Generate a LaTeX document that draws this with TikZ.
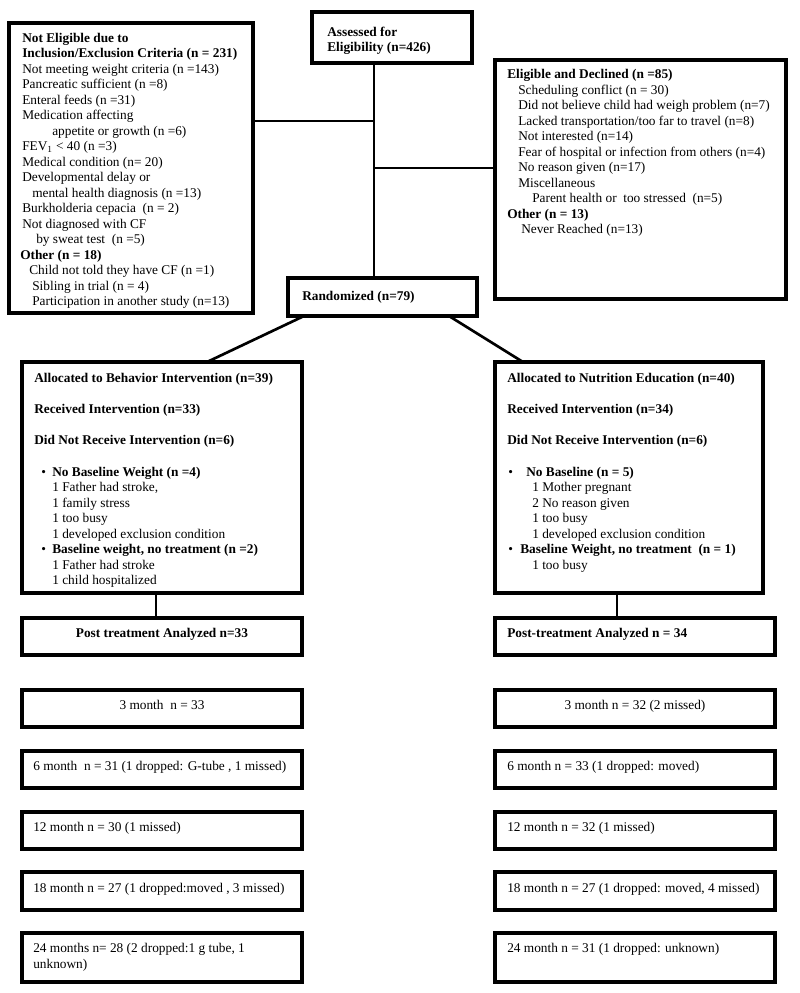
\documentclass[tikz,border=0pt]{standalone}
\usepackage{fontspec}
\setmainfont{Liberation Serif}
\usetikzlibrary{fit}
\begin{document}
\begin{tikzpicture}[x=0.75pt,y=-0.75pt,
  box/.style={draw, line width=2.3pt, inner sep=0pt},
  ln/.style={line width=2pt},
  t/.style={anchor=base west, inner sep=0pt, font=\fontsize{10}{11.6}\selectfont},
  tb/.style={t, font=\fontsize{10}{11.6}\selectfont\bfseries},
  tc/.style={anchor=base, inner sep=0pt, font=\fontsize{10}{11.6}\selectfont},
  tcb/.style={tc, font=\fontsize{10}{11.6}\selectfont\bfseries}]
\useasboundingbox (0,0) rectangle (800,993);
% ---------------- boxes ----------------
\node[box, fit={(9,23) (253,313)}] (ne) {};
\node[box, fit={(312,12) (472,63)}] (ass) {};
\node[box, fit={(495,60) (786,299)}] (ed) {};
\node[box, fit={(288,278) (477,316)}] (rand) {};
\node[box, fit={(22,362) (302,593)}] (alB) {};
\node[box, fit={(495,362) (763,593)}] (alN) {};
\node[box, fit={(22,618) (302,655)}] (pB) {};
\node[box, fit={(495,618) (775,655)}] (pN) {};
\node[box, fit={(22,690) (302,727)}] (m3B) {};
\node[box, fit={(495,690) (775,727)}] (m3N) {};
\node[box, fit={(22,751) (302,788)}] (m6B) {};
\node[box, fit={(495,751) (775,788)}] (m6N) {};
\node[box, fit={(22,812) (302,849)}] (m12B) {};
\node[box, fit={(495,812) (775,849)}] (m12N) {};
\node[box, fit={(22,872) (302,910)}] (m18B) {};
\node[box, fit={(495,872) (775,910)}] (m18N) {};
\node[box, fit={(22,933) (302,982)}] (m24B) {};
\node[box, fit={(495,933) (775,982)}] (m24N) {};
% ---------------- connectors ----------------
\coordinate (jL) at (374,121);
\coordinate (jR) at (374,168);
\draw[ln] (ass.south -| jL) -- (rand.north -| jL);
\draw[ln] (ne.east |- jL) -- (jL);
\draw[ln] (jR) -- (ed.west |- jR);
\coordinate (dA) at (304,316);
\coordinate (dB) at (207,362);
\coordinate (dC) at (449,316);
\coordinate (dD) at (523,362);
\draw[ln] (dA) -- (dB);
\draw[ln] (dC) -- (dD);
\coordinate (cB1) at (156,593);
\coordinate (cB2) at (156,618);
\coordinate (cN1) at (617,593);
\coordinate (cN2) at (617,618);
\draw[ln] (cB1) -- (cB2);
\draw[ln] (cN1) -- (cN2);
% ---------------- Not eligible ----------------
\node[tb] (ne1) at (22,42) {Not Eligible due to};
\node[tb] (ne2) at (22,57.5) {Inclusion/Exclusion Criteria (n = 231)};
\node[t] (ne3) at (22,73) {Not meeting weight criteria (n =143)};
\node[t] (ne4) at (22,88.5) {Pancreatic sufficient (n =8)};
\node[t] (ne5) at (22,104) {Enteral feeds (n =31)};
\node[t] (ne6) at (22,119.5) {Medication affecting};
\node[t] (ne7) at (52,135) {appetite or growth (n =6)};
\node[t] (ne8) at (22,150.5) {FEV\textsubscript{1} < 40 (n =3)};
\node[t] (ne9) at (22,166) {Medical condition (n= 20)};
\node[t] (ne10) at (22,181.5) {Developmental delay or};
\node[t] (ne11) at (32,197) {mental health diagnosis (n =13)};
\node[t] (ne12) at (22,212.5) {Burkholderia cepacia\ \ (n = 2)};
\node[t] (ne13) at (22,228) {Not diagnosed with CF};
\node[t] (ne14) at (36,243.5) {by sweat test\ \ (n =5)};
\node[tb] (ne15) at (20,259) {Other (n = 18)};
\node[t] (ne16) at (29,274.5) {Child not told they have CF (n =1)};
\node[t] (ne17) at (32,290) {Sibling in trial (n = 4)};
\node[t] (ne18) at (32,305.5) {Participation in another study (n=13)};
% ---------------- Assessed ----------------
\node[tb] (as1) at (327,36) {Assessed for};
\node[tb] (as2) at (327,51) {Eligibility (n=426)};
% ---------------- Eligible and declined ----------------
\node[tb] (ed1) at (507,78.5) {Eligible and Declined (n =85)};
\node[t] (ed2) at (518,94) {Scheduling conflict (n = 30)};
\node[t] (ed3) at (518,109.5) {Did not believe child had weigh problem (n=7)};
\node[t] (ed4) at (518,125) {Lacked transportation/too far to travel (n=8)};
\node[t] (ed5) at (518,140.5) {Not interested (n=14)};
\node[t] (ed6) at (518,156) {Fear of hospital or infection from others (n=4)};
\node[t] (ed7) at (518,171.5) {No reason given (n=17)};
\node[t] (ed8) at (518,187) {Miscellaneous};
\node[t] (ed9) at (532,202.5) {Parent health or\ \ too stressed\ \ (n=5)};
\node[tb] (ed10) at (507,218) {Other (n = 13)};
\node[t] (ed11) at (521,233.5) {Never Reached (n=13)};
% ---------------- Randomized ----------------
\node[tb] (ra1) at (302,300) {Randomized (n=79)};
% ---------------- Behavior arm ----------------
\node[tb] (b1) at (34,382) {Allocated to Behavior Intervention (n=39)};
\node[tb] (b2) at (34,413) {Received Intervention (n=33)};
\node[tb] (b3) at (34,444) {Did Not Receive Intervention (n=6)};
\node[t] (b4a) at (41,476) {\textbullet};
\node[tb] (b4) at (52,476) {No Baseline Weight (n =4)};
\node[t] (b5) at (52,491.5) {1 Father had stroke,};
\node[t] (b6) at (52,507) {1 family stress};
\node[t] (b7) at (52,522.5) {1 too busy};
\node[t] (b8) at (52,538) {1 developed exclusion condition};
\node[t] (b9a) at (41,553.5) {\textbullet};
\node[tb] (b9) at (52,553.5) {Baseline weight, no treatment (n =2)};
\node[t] (b10) at (52,569) {1 Father had stroke};
\node[t] (b11) at (52,584.5) {1 child hospitalized};
% ---------------- Nutrition arm ----------------
\node[tb] (n1) at (507,382) {Allocated to Nutrition Education (n=40)};
\node[tb] (n2) at (507,413) {Received Intervention (n=34)};
\node[tb] (n3) at (507,444) {Did Not Receive Intervention (n=6)};
\node[t] (n4a) at (508,476) {\textbullet};
\node[tb] (n4) at (526,476) {No Baseline (n = 5)};
\node[t] (n5) at (532,491.5) {1 Mother pregnant};
\node[t] (n6) at (532,507) {2 No reason given};
\node[t] (n7) at (532,522.5) {1 too busy};
\node[t] (n8) at (532,538) {1 developed exclusion condition};
\node[t] (n9a) at (508,553.5) {\textbullet};
\node[tb] (n9) at (520,553.5) {Baseline Weight, no treatment\ \ (n = 1)};
\node[t] (n10) at (532,569) {1 too busy};
% ---------------- follow-up ----------------
\node[tcb] (pBt) at (162,637) {Post treatment Analyzed n=33};
\node[tb] (pNt) at (507,637) {Post-treatment Analyzed n = 34};
\node[tc] (m3Bt) at (162,709) {3 month\ \ n = 33};
\node[tc] (m3Nt) at (635,709) {3 month n = 32 (2 missed)};
\node[t] (m6Bt) at (33,770) {6 month\ \ n = 31 (1 dropped: G-tube , 1 missed)};
\node[t] (m6Nt) at (507,770) {6 month n = 33 (1 dropped: moved)};
\node[t] (m12Bt) at (33,831) {12 month n = 30 (1 missed)};
\node[t] (m12Nt) at (507,831) {12 month n = 32 (1 missed)};
\node[t] (m18Bt) at (33,892) {18 month n = 27 (1 dropped:moved , 3 missed)};
\node[t] (m18Nt) at (507,892) {18 month n = 27 (1 dropped: moved, 4 missed)};
\node[t] (m24Bt) at (33,952) {24 months n= 28 (2 dropped:1 g tube, 1};
\node[t] (m24Bu) at (33,968) {unknown)};
\node[t] (m24Nt) at (507,952) {24 month n = 31 (1 dropped: unknown)};
\end{tikzpicture}
\end{document}
